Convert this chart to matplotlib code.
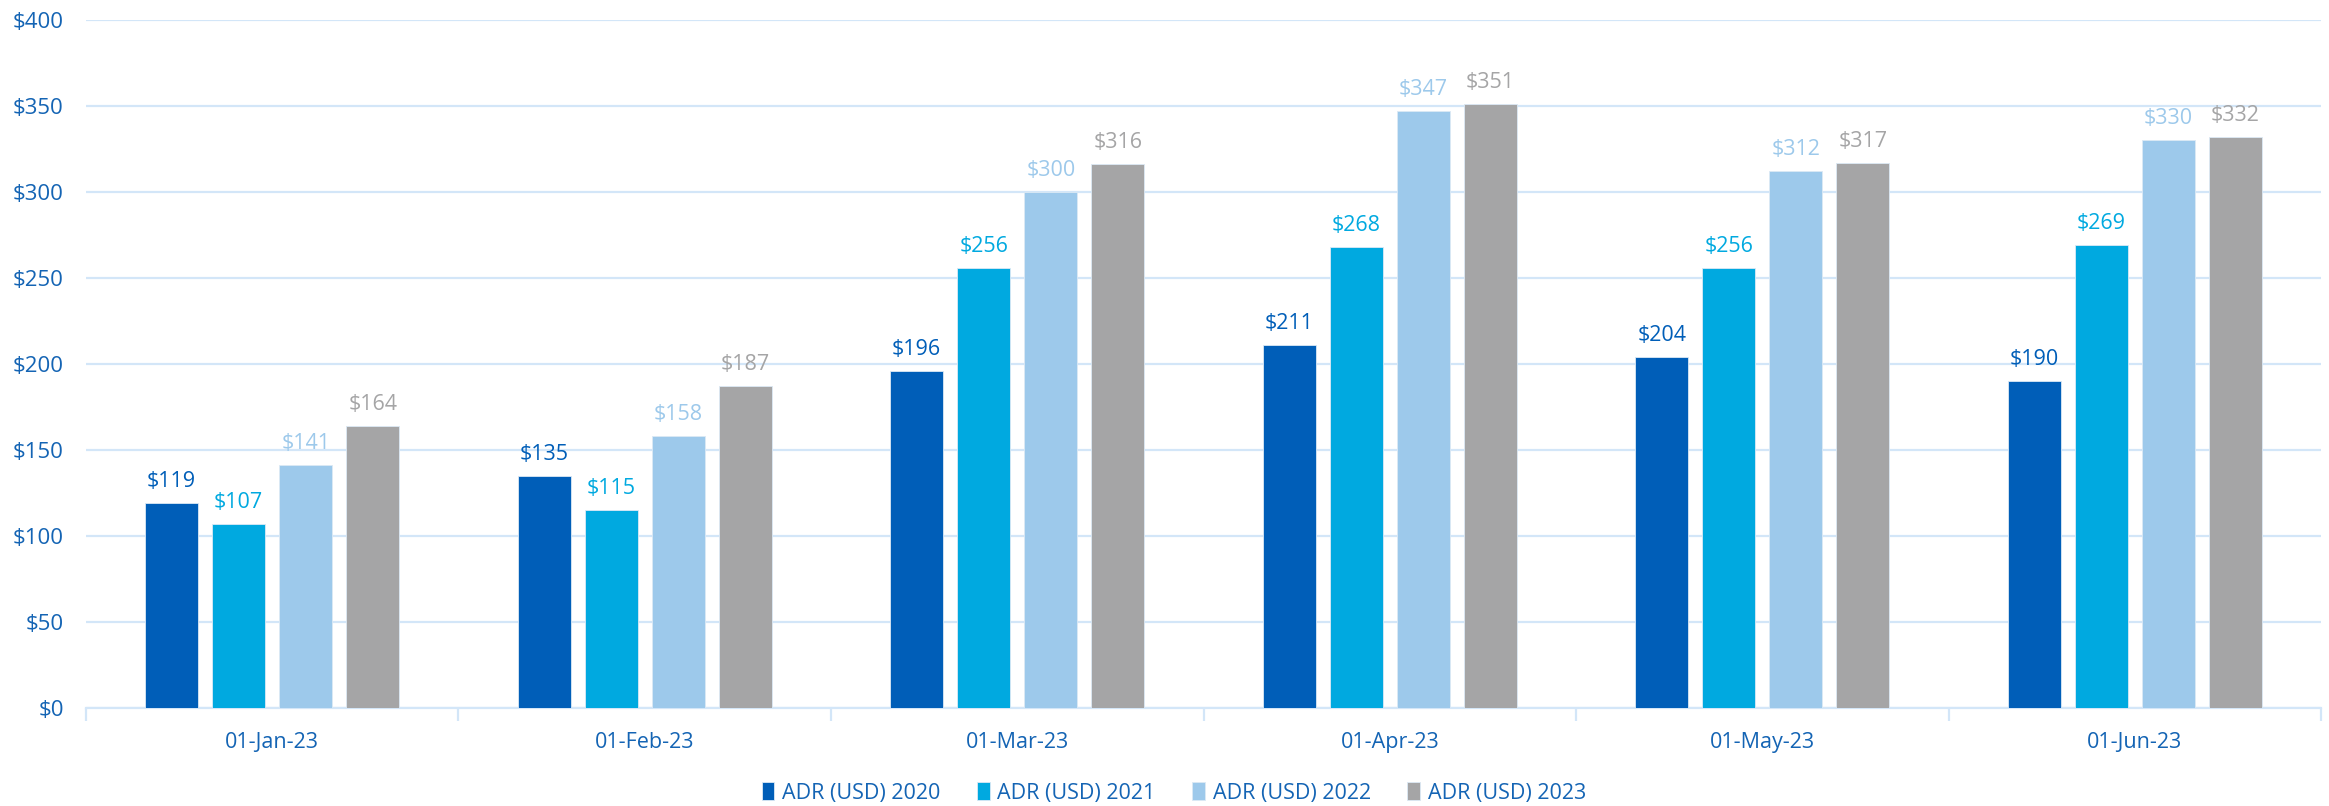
import numpy as np
import matplotlib
matplotlib.use('Agg')
import matplotlib.pyplot as plt

plt.rcParams['font.family'] = ['Open Sans', 'DejaVu Sans']

# data
months = ['01-Jan-23', '01-Feb-23', '01-Mar-23', '01-Apr-23', '01-May-23', '01-Jun-23']
adr_2020 = [119, 135, 196, 211, 204, 190]
adr_2021 = [107, 115, 256, 268, 256, 269]
adr_2022 = [141, 158, 300, 347, 312, 330]
adr_2023 = [164, 187, 316, 351, 317, 332]

series = [('ADR (USD) 2020', adr_2020, '#005EB8'),
          ('ADR (USD) 2021', adr_2021, '#00A9E0'),
          ('ADR (USD) 2022', adr_2022, '#9DC9EB'),
          ('ADR (USD) 2023', adr_2023, '#A5A5A6')]

text_blue = '#1464B4'
grid_col = '#D3E6F8'

fig = plt.figure(figsize=(23.29, 8.06), dpi=100)
ax = fig.add_axes([0.0369, 0.1216, 0.9597, 0.8536])

x = np.arange(len(months))
width = 0.142
step = 0.18
for i, (name, vals, col) in enumerate(series):
    pos = x + (i - 1.5) * step
    bars = ax.bar(pos, vals, width, color=col, label=name, zorder=3,
                  edgecolor='#DCE9F5', linewidth=0.6)
    for b, v in zip(bars, vals):
        ax.annotate(f'${v}', (b.get_x() + b.get_width() / 2, v),
                    xytext=(0, 8), textcoords='offset points',
                    ha='center', va='bottom', fontsize=15.5, color=col)

ax.set_xlim(-0.5, len(months) - 0.5)
ax.set_ylim(0, 400)
ax.set_yticks(np.arange(0, 401, 50))
ax.set_yticklabels([f'${v}' for v in range(0, 401, 50)])
ax.yaxis.grid(True, color=grid_col, linewidth=1.6, zorder=0)
ax.tick_params(axis='y', length=0, labelsize=16, labelcolor=text_blue, pad=16)

ax.set_xticks(x)
ax.set_xticklabels(months)
ax.set_xticks(np.arange(-0.5, len(months)), minor=True)
ax.tick_params(axis='x', which='major', length=0, labelsize=15.5, labelcolor=text_blue, pad=17)
ax.tick_params(axis='x', which='minor', length=9, width=1.6, color=grid_col)

for s in ['top', 'right', 'left']:
    ax.spines[s].set_visible(False)
ax.spines['bottom'].set_color(grid_col)
ax.spines['bottom'].set_linewidth(1.6)

leg = fig.legend(loc='center', bbox_to_anchor=(0.504, 0.016), ncol=4, frameon=False,
                 fontsize=15.5, handlelength=0.6, handleheight=0.9, handletextpad=0.35,
                 columnspacing=1.7)
for t in leg.get_texts():
    t.set_color(text_blue)

fig.savefig('out.png', dpi=100)
